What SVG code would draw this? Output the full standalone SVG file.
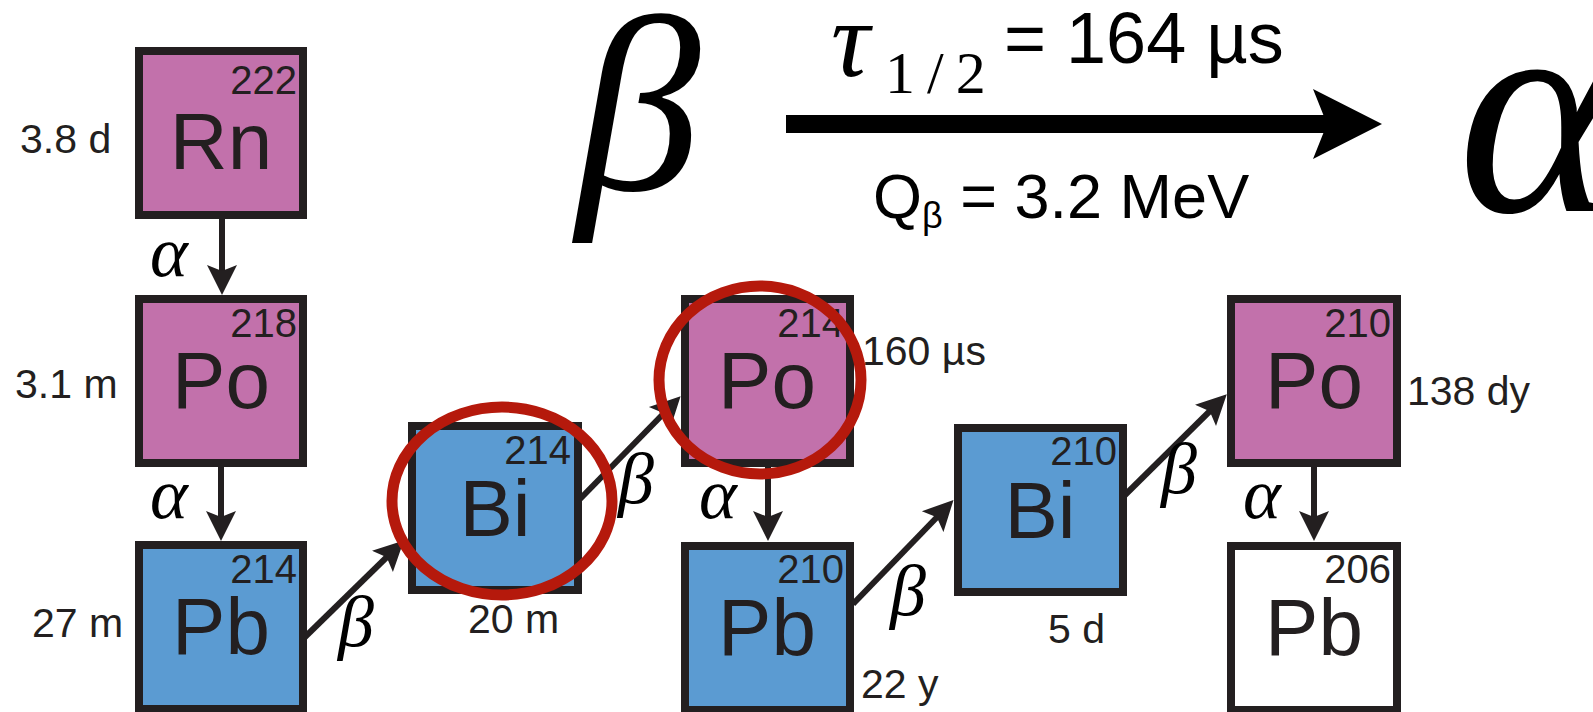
<svg xmlns="http://www.w3.org/2000/svg" width="1593" height="712" viewBox="0 0 1593 712">
<style>
.box{stroke:#231F20;stroke-width:8}
.po{fill:#C271AB}
.bl{fill:#5B9BD2}
.wh{fill:#FFFFFF}
.sym{font-family:"Liberation Sans",Arial,sans-serif;font-size:80px;fill:#231F20;text-anchor:middle}
.mass{font-family:"Liberation Sans",Arial,sans-serif;font-size:40px;fill:#231F20;text-anchor:end}
.hl{font-family:"Liberation Sans",Arial,sans-serif;font-size:41px;fill:#231F20}
.gk{font-family:"Liberation Serif","Times New Roman",serif;font-style:italic;fill:#000}
.sa{font-size:72px}
.sb{font-size:72px}
.conn{stroke:#231F20;stroke-width:6;fill:none}
.ring{fill:none;stroke:#B5190C;stroke-width:11}
.big{font-family:"Liberation Sans",Arial,sans-serif;fill:#000}
</style>
<defs>
<marker id="ah" markerUnits="userSpaceOnUse" markerWidth="30" markerHeight="32" viewBox="0 0 30 32" refX="12" refY="16" orient="auto">
<path d="M30,16 L0,1 L6,16 L0,31 Z" fill="#231F20"/>
</marker>
</defs>
<rect width="1593" height="712" fill="#FFFFFF"/>

<g id="header">
<text class="gk" x="576" y="190" font-size="250">β</text>
<text class="gk" x="831" y="76" font-size="108">τ</text>
<text x="885" y="93" font-family="Liberation Serif,'Times New Roman',serif" font-size="60" letter-spacing="12" fill="#000">1/2</text>
<text class="big" x="1004" y="63" font-size="72">= 164 µs</text>
<rect x="786" y="115" width="541" height="18" fill="#000"/>
<polygon points="1313,89 1382,124 1313,159 1327,124" fill="#000"/>
<text class="big" x="873" y="218" font-size="63">Q<tspan font-size="36" dy="10">β</tspan><tspan dy="-10"> = 3.2 MeV</tspan></text>
<text class="gk" x="1458" y="211" font-size="300">α</text>
</g>

<g id="connectors">
<line class="conn" x1="222" y1="219" x2="222" y2="277" marker-end="url(#ah)"/>
<line class="conn" x1="221" y1="467" x2="221" y2="523" marker-end="url(#ah)"/>
<line class="conn" x1="768" y1="467" x2="768" y2="523" marker-end="url(#ah)"/>
<line class="conn" x1="1314" y1="467" x2="1314" y2="523" marker-end="url(#ah)"/>
<line class="conn" x1="305" y1="637" x2="391" y2="553" marker-end="url(#ah)"/>
<line class="conn" x1="580" y1="499" x2="668" y2="409" marker-end="url(#ah)"/>
<line class="conn" x1="853" y1="604" x2="941" y2="513" marker-end="url(#ah)"/>
<line class="conn" x1="1125" y1="495" x2="1214" y2="407" marker-end="url(#ah)"/>
<text class="gk sa" x="150" y="276">α</text>
<text class="gk sa" x="150" y="518">α</text>
<text class="gk sa" x="699" y="518">α</text>
<text class="gk sa" x="1243" y="518">α</text>
<text class="gk sb" x="338" y="646">β</text>
<text class="gk sb" x="618" y="503">β</text>
<text class="gk sb" x="890" y="615">β</text>
<text class="gk sb" x="1161" y="493">β</text>
</g>

<g id="rn222">
<rect class="box po" x="139" y="51" width="164" height="164"/>
<text class="mass" x="297" y="94">222</text>
<text class="sym" x="221" y="169">Rn</text>
<text class="hl" x="20" y="153">3.8 d</text>
</g>
<g id="po218">
<rect class="box po" x="139" y="299" width="164" height="164"/>
<text class="mass" x="297" y="337">218</text>
<text class="sym" x="221" y="408">Po</text>
<text class="hl" x="15" y="398">3.1 m</text>
</g>
<g id="pb214">
<rect class="box bl" x="139" y="545" width="164" height="164"/>
<text class="mass" x="297" y="583">214</text>
<text class="sym" x="221" y="654">Pb</text>
<text class="hl" x="32" y="637">27 m</text>
</g>
<g id="bi214">
<rect class="box bl" x="412" y="426" width="166" height="164"/>
<text class="mass" x="571" y="464">214</text>
<text class="sym" x="495" y="536">Bi</text>
<text class="hl" x="468" y="633">20 m</text>
</g>
<g id="po214">
<rect class="box po" x="685" y="299" width="165" height="164"/>
<text class="mass" x="844" y="337">214</text>
<text class="sym" x="767" y="408">Po</text>
<text class="hl" x="862" y="365">160 µs</text>
</g>
<g id="pb210">
<rect class="box bl" x="685" y="546" width="165" height="164"/>
<text class="mass" x="844" y="583">210</text>
<text class="sym" x="767" y="655">Pb</text>
<text class="hl" x="861" y="698">22 y</text>
</g>
<g id="bi210">
<rect class="box bl" x="958" y="428" width="165" height="164"/>
<text class="mass" x="1117" y="465">210</text>
<text class="sym" x="1040" y="538">Bi</text>
<text class="hl" x="1048" y="643">5 d</text>
</g>
<g id="po210">
<rect class="box po" x="1231" y="299" width="166" height="164"/>
<text class="mass" x="1391" y="337">210</text>
<text class="sym" x="1314" y="408">Po</text>
<text class="hl" x="1407" y="405">138 dy</text>
</g>
<g id="pb206">
<rect class="box wh" x="1231" y="546" width="166" height="164"/>
<text class="mass" x="1391" y="583">206</text>
<text class="sym" x="1314" y="655">Pb</text>
</g>

<g id="highlights">
<ellipse class="ring" cx="502" cy="501" rx="110" ry="94"/>
<ellipse class="ring" cx="760" cy="380" rx="101" ry="94"/>
</g>
</svg>
